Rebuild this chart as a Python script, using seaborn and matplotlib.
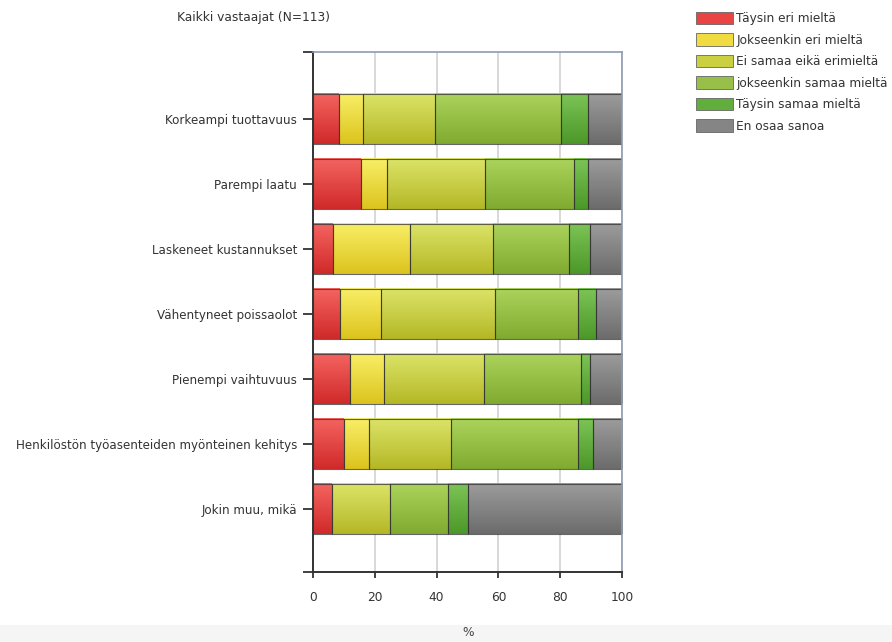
import numpy as np
import matplotlib
matplotlib.use("Agg")
import matplotlib.pyplot as plt
from matplotlib.colors import LinearSegmentedColormap
from matplotlib.patches import Patch, Rectangle
import seaborn as sns

# Survey statements (rows) and answer shares in percent
categories = [
    "Korkeampi tuottavuus",
    "Parempi laatu",
    "Laskeneet kustannukset",
    "Vähentyneet poissaolot",
    "Pienempi vaihtuvuus",
    "Henkilöstön työasenteiden myönteinen kehitys",
    "Jokin muu, mikä",
]
taysin_eri = [8.3, 15.6, 6.6, 8.8, 12.1, 10.1, 6.25]
jokseenkin_eri = [7.8, 8.3, 24.7, 13.1, 10.9, 7.9, 0.0]
ei_samaa_eika_eri = [23.5, 31.9, 27.0, 36.9, 32.3, 26.6, 18.75]
jokseenkin_samaa = [40.7, 28.6, 24.5, 27.0, 31.3, 41.2, 18.75]
taysin_samaa = [8.8, 4.7, 7.0, 5.9, 2.9, 4.8, 6.25]
en_osaa = [10.9, 10.9, 10.2, 8.3, 10.5, 9.4, 50.0]

series_labels = [
    "Täysin eri mieltä",
    "Jokseenkin eri mieltä",
    "Ei samaa eikä erimieltä",
    "jokseenkin samaa mieltä",
    "Täysin samaa mieltä",
    "En osaa sanoa",
]
series_values = [taysin_eri, jokseenkin_eri, ei_samaa_eika_eri,
                 jokseenkin_samaa, taysin_samaa, en_osaa]

# (top, middle, bottom) shades for the glossy bar fill
shades = [
    ("#f46460", "#e84444", "#d02a2a"),
    ("#f8ee66", "#f0dc40", "#dcc41e"),
    ("#dce468", "#cad040", "#b4b826"),
    ("#acd45c", "#98c048", "#80aa30"),
    ("#7cc456", "#62ae3c", "#4c9828"),
    ("#9c9c9c", "#858585", "#6c6c6c"),
]

FS = 8.8

sns.set_style("white")
plt.rcParams["font.family"] = ["DejaVu Sans"]

fig = plt.figure(figsize=(8.92, 6.42), dpi=100)
ax = fig.add_axes([313 / 892, 70 / 642, 309 / 892, 520 / 642])
ax.set_axisbelow(True)

left = np.zeros(len(categories))
bar_groups = []
for vals, (top, mid, bot) in zip(series_values, shades):
    n_before = len(ax.patches)
    sns.barplot(x=vals, y=categories, orient="h", left=left.copy(),
                color=mid, saturation=1, width=0.78, errorbar=None,
                edgecolor=(0.2, 0.2, 0.2, 0.75), linewidth=0.8, ax=ax)
    bar_groups.append((ax.patches[n_before:], top, bot))
    left += np.asarray(vals)

# vertical gradient inside every bar, light at the top
grad = np.linspace(0, 1, 64).reshape(-1, 1)
for patches, top, bot in bar_groups:
    cmap = LinearSegmentedColormap.from_list("shade", [top, bot])
    for p in patches:
        w = p.get_width()
        if w <= 0:
            p.set_visible(False)
            continue
        x0, y0, h = p.get_x(), p.get_y(), p.get_height()
        ax.imshow(grad, extent=(x0, x0 + w, y0 + h, y0), cmap=cmap,
                  aspect="auto", interpolation="bilinear",
                  zorder=p.get_zorder() - 0.01)
        p.set_facecolor("none")

ax.set_xlim(0, 100)
ax.set_ylim(6.97, -1.03)
ax.set_xticks([0, 20, 40, 60, 80, 100])
ax.set_yticks(range(len(categories)))
ax.set_yticklabels(categories)
ax.set_yticks([-1.03, 6.97], minor=True)
ax.set_xlabel("")
ax.set_ylabel("")

ax.xaxis.grid(True, color="#d6d6d6", linewidth=1.3)
ax.yaxis.grid(False)

for side in ("left", "bottom"):
    ax.spines[side].set_color("#333333")
    ax.spines[side].set_linewidth(1.4)
for side in ("top", "right"):
    ax.spines[side].set_visible(True)
    ax.spines[side].set_color("#8d9cb0")
    ax.spines[side].set_linewidth(1.2)

ax.tick_params(axis="y", which="both", direction="out", length=7.5,
               width=1.3, color="#333333", pad=4, labelsize=8.6,
               labelcolor="#333333", left=True)
ax.tick_params(axis="x", direction="out", length=4.5, width=1.3,
               color="#333333", pad=9, labelsize=FS, labelcolor="#333333",
               bottom=True)

# light strip along the bottom edge with the axis unit
fig.patches.append(Rectangle((0, 0), 1, 17 / 642, transform=fig.transFigure,
                             facecolor="#f5f5f5", edgecolor="none", zorder=-1))
fig.text(468 / 892, 1 - 632 / 642, "%", ha="center", va="center",
         fontsize=FS, color="#444444")

fig.text(177 / 892, 1 - 18 / 642, "Kaikki vastaajat (N=113)", ha="left",
         va="center", fontsize=FS, color="#333333")

handles = [Patch(facecolor=mid, edgecolor="#666666", linewidth=0.6)
           for _, mid, _ in shades]
fig.legend(handles, series_labels, loc="upper left",
           bbox_to_anchor=(696 / 892, 1 - 12 / 642),
           bbox_transform=fig.transFigure, frameon=False, fontsize=8.7,
           handlelength=3.1, handleheight=1.2, handletextpad=0.25,
           labelspacing=0.68, borderpad=0, borderaxespad=0,
           labelcolor="#333333")

fig.savefig("out.png", dpi=100)
